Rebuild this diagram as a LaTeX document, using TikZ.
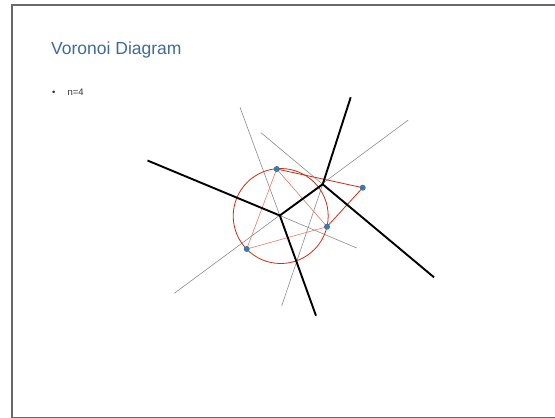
\documentclass[tikz,border=0pt]{standalone}
\usepackage{fontspec}
\setmainfont{Liberation Sans}
\definecolor{titleblue}{RGB}{62,106,156}
\definecolor{darkred}{RGB}{205,45,20}
\definecolor{lightred}{RGB}{232,120,105}
\definecolor{dotblue}{RGB}{60,120,170}
\definecolor{framegray}{RGB}{105,105,105}
\tikzset{
  vedge/.style={line width=1.9pt, black},
  bisector/.style={line width=0.6pt, gray!90},
  tri/.style={line width=0.6pt, lightred},
  hull/.style={line width=0.8pt, darkred},
  site/.style={circle, fill=dotblue, inner sep=0pt, minimum size=6pt}
}
\begin{document}
\begin{tikzpicture}[x=1pt,y=-1pt]
\useasboundingbox (0,0) rectangle (555,418);
\draw[framegray, line width=1.6pt] (11.8,5) rectangle (560,417.5);
\node[anchor=base west, text=titleblue, font=\fontsize{17.5}{20}\selectfont, inner sep=0pt] (title) at (51,54.5) {Voronoi Diagram};
\node[anchor=base west, font=\fontsize{9.5}{11}\selectfont, inner sep=0pt, text=black!80] (item) at (52,95.5) {\textbullet\hspace{12pt}n=4};
% sites
\coordinate (A) at (276.7,169);
\coordinate (B) at (362.7,187.7);
\coordinate (C) at (327,226.7);
\coordinate (D) at (246.7,249);
% voronoi vertices
\coordinate (V1) at (279.8,215.5);
\coordinate (V2) at (322.7,184.3);
% ray ends
\coordinate (E1) at (147.5,160.5);
\coordinate (E2) at (316,315.7);
\coordinate (E3) at (350.7,97.3);
\coordinate (E4) at (434,277.3);
% bisector ends
\coordinate (G1) at (174.3,293.3);
\coordinate (G2) at (408.3,120);
\coordinate (G3) at (240,107.3);
\coordinate (G4) at (356.7,248);
\coordinate (G5) at (281.7,306);
\coordinate (G6) at (261,132.7);
% gray bisectors
\draw[bisector] (G1) -- (G2);
\draw[bisector] (G3) -- (V1);
\draw[bisector] (V1) -- (G4);
\draw[bisector] (V2) -- (G5);
\draw[bisector] (G6) -- (V2);
% circumcircle
\draw[hull] (280.7,216) circle (47.5);
% triangle
\draw[tri] (A) -- (C) -- (D) -- cycle;
\draw[hull] (A) -- (B) -- (C);
% voronoi edges
\draw[vedge] (E1) -- (V1) -- (E2);
\draw[vedge] (V1) -- (V2);
\draw[vedge] (E3) -- (V2) -- (E4);
% sites
\foreach \p in {A,B,C,D} \node[site] (s\p) at (\p) {};
\end{tikzpicture}
\end{document}
